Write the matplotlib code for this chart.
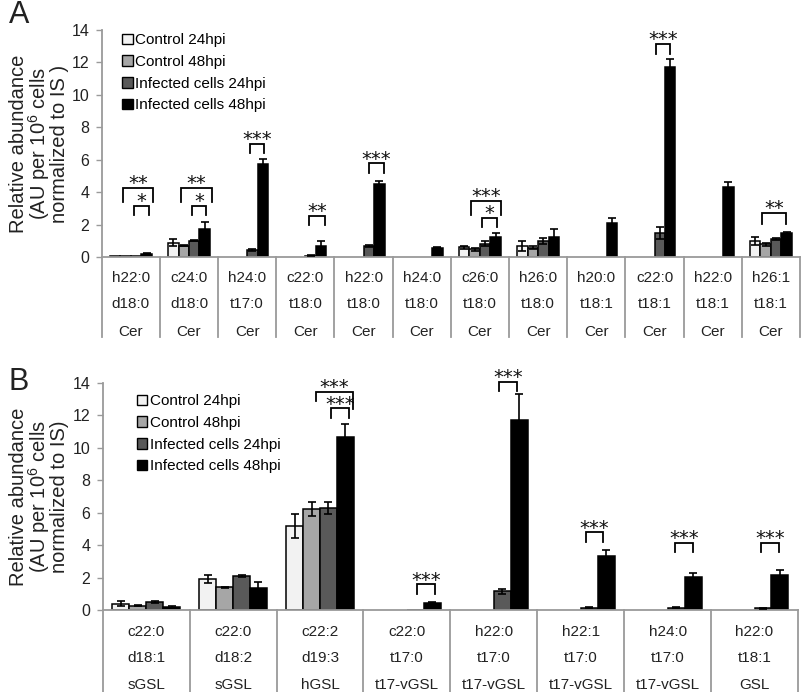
import matplotlib
matplotlib.use("Agg")
import matplotlib.pyplot as plt
from matplotlib.patches import Patch
import numpy as np

plt.rcParams['font.family'] = ['Liberation Sans', 'DejaVu Sans']
plt.rcParams['mathtext.fontset'] = 'custom'
plt.rcParams['mathtext.rm'] = 'Liberation Sans'
plt.rcParams['mathtext.it'] = 'Liberation Sans:italic'
plt.rcParams['mathtext.bf'] = 'Liberation Sans:bold'

# ---------------- data ----------------
series = ["Control 24hpi", "Control 48hpi", "Infected cells 24hpi", "Infected cells 48hpi"]
colors = ["#f2f2f2", "#a6a6a6", "#595959", "#000000"]

cats_A_fa = ["h22:0", "c24:0", "h24:0", "c22:0", "h22:0", "h24:0", "c26:0", "h26:0", "h20:0", "c22:0", "h22:0", "h26:1"]
cats_A_lcb = ["d18:0", "d18:0", "t17:0", "t18:0", "t18:0", "t18:0", "t18:0", "t18:0", "t18:1", "t18:1", "t18:1", "t18:1"]
cats_A_cls = ["Cer"] * 12

ctrl24_A = [0.05, 0.88, 0, 0, 0, 0, 0.60, 0.68, 0, 0, 0, 0.99]
ctrl48_A = [0.06, 0.70, 0, 0, 0, 0, 0.47, 0.57, 0, 0, 0, 0.78]
inf24_A = [0.07, 1.00, 0.45, 0.08, 0.70, 0, 0.83, 0.97, 0, 1.46, 0, 1.09]
inf48_A = [0.20, 1.70, 5.74, 0.68, 4.49, 0.57, 1.25, 1.25, 2.08, 11.71, 4.30, 1.46]
ctrl24_A_err = [0.0, 0.20, 0, 0, 0, 0, 0.08, 0.30, 0, 0, 0, 0.26]
ctrl48_A_err = [0.0, 0.05, 0, 0, 0, 0, 0.08, 0.08, 0, 0, 0, 0.08]
inf24_A_err = [0.0, 0.04, 0.05, 0.02, 0.07, 0, 0.18, 0.18, 0, 0.37, 0, 0.07]
inf48_A_err = [0.04, 0.47, 0.29, 0.29, 0.20, 0.04, 0.21, 0.45, 0.31, 0.51, 0.31, 0.10]

cats_B_fa = ["c22:0", "c22:0", "c22:2", "c22:0", "h22:0", "h22:1", "h24:0", "h22:0"]
cats_B_lcb = ["d18:1", "d18:2", "d19:3", "t17:0", "t17:0", "t17:0", "t17:0", "t18:1"]
cats_B_cls = ["sGSL", "sGSL", "hGSL", "t17-vGSL", "t17-vGSL", "t17-vGSL", "t17-vGSL", "GSL"]

ctrl24_B = [0.40, 1.90, 5.15, 0, 0, 0, 0, 0]
ctrl48_B = [0.27, 1.40, 6.22, 0, 0, 0, 0, 0]
inf24_B = [0.50, 2.10, 6.26, 0.02, 1.15, 0.15, 0.15, 0.10]
inf48_B = [0.21, 1.35, 10.66, 0.45, 11.70, 3.35, 2.06, 2.16]
ctrl24_B_err = [0.13, 0.26, 0.74, 0, 0, 0, 0, 0]
ctrl48_B_err = [0.03, 0.03, 0.41, 0, 0, 0, 0, 0]
inf24_B_err = [0.05, 0.07, 0.37, 0, 0.16, 0.02, 0.02, 0.02]
inf48_B_err = [0.06, 0.40, 0.82, 0.04, 1.64, 0.35, 0.25, 0.33]

# significance brackets: (category, x_from, x_to, y_line, y_leg_left, y_leg_right, label)
sig_A = [
    (0, -0.13, 0.39, 4.26, 3.40, 3.40, "**"),
    (0, 0.06, 0.31, 3.17, 2.60, 2.60, "*"),
    (1, -0.14, 0.39, 4.26, 3.40, 3.40, "**"),
    (1, 0.06, 0.29, 3.17, 2.60, 2.60, "*"),
    (2, 0.04, 0.29, 6.97, 6.40, 6.40, "***"),
    (3, 0.07, 0.33, 2.55, 1.97, 1.97, "**"),
    (4, 0.10, 0.35, 5.78, 5.20, 5.20, "***"),
    (6, -0.16, 0.37, 3.46, 2.60, 2.60, "***"),
    (6, 0.03, 0.29, 2.43, 1.83, 1.83, "*"),
    (9, 0.02, 0.27, 13.13, 12.53, 12.53, "***"),
    (11, -0.16, 0.26, 2.73, 2.02, 2.02, "**"),
]
sig_B = [
    (2, -0.05, 0.38, 13.47, 12.91, 12.42, "***"),
    (2, 0.13, 0.33, 12.43, 11.82, 11.82, "***"),
    (3, 0.12, 0.32, 1.59, 0.99, 0.99, "***"),
    (4, 0.06, 0.27, 14.08, 13.53, 13.53, "***"),
    (5, 0.06, 0.26, 4.78, 4.22, 4.22, "***"),
    (6, 0.09, 0.29, 4.16, 3.60, 3.60, "***"),
    (7, 0.07, 0.28, 4.16, 3.60, 3.60, "***"),
]

yticks = [0, 2, 4, 6, 8, 10, 12, 14]

# ---------------- drawing ----------------
W, H = 802, 692
fig = plt.figure(figsize=(W / 100, H / 100), dpi=100)
axA = fig.add_axes([101.7 / W, 1 - 257 / H, (800 - 101.7) / W, 227 / H])
axB = fig.add_axes([102.7 / W, 1 - 610 / H, (798 - 102.7) / W, 227 / H])

GRAY = "#9a9a9a"
TXT = "#222222"


def draw_panel(ax, vals, errs, width, rows, sigs, sep_px, row_px, leg_anchor):
    n = len(vals[0])
    x = np.arange(n)
    for k in range(4):
        off = (k - 1.5) * width
        v = np.array(vals[k], float)
        e = np.array(errs[k], float)
        m = v > 0
        ax.bar(x[m] + off, v[m], width=width, color=colors[k], edgecolor="black",
               linewidth=1.1, zorder=2)
        me = m & (e > 0)
        ax.errorbar(x[me] + off, v[me], yerr=e[me], fmt="none", ecolor="black",
                    elinewidth=1.2, capsize=3.2, capthick=1.2, zorder=3)
    ax.set_xlim(-0.5, n - 0.5)
    ax.set_ylim(0, 14)
    ax.set_yticks(yticks)
    ax.set_yticklabels([str(t) for t in yticks], fontsize=11.5, color=TXT)
    ax.tick_params(axis="y", length=4, width=1.0, color=GRAY, pad=5)
    ax.set_xticks([])
    for s in ("top", "right"):
        ax.spines[s].set_visible(False)
    for s in ("left", "bottom"):
        ax.spines[s].set_color(GRAY)
        ax.spines[s].set_linewidth(1.3)
    # table rows below axis
    axh = ax.get_position().height * H
    for b in np.arange(n + 1) - 0.5:
        ax.plot([b, b], [0, -sep_px / axh], transform=ax.get_xaxis_transform(),
                color=GRAY, lw=1.3, clip_on=False)
    for r, labels in enumerate(rows):
        for i, lab in enumerate(labels):
            ax.annotate(lab, xy=(i, 0), xycoords=("data", "axes fraction"),
                        xytext=(0, -row_px[r] * 0.72), textcoords="offset points",
                        ha="center", va="center", fontsize=11, color=TXT)
    # significance
    for (c, x1, x2, yl, yll, ylr, lab) in sigs:
        ax.plot([c + x1, c + x1, c + x2, c + x2], [yll, yl, yl, ylr], color="black",
                lw=1.3, clip_on=False, zorder=4, solid_joinstyle="miter")
        ax.annotate(lab, xy=((x1 + x2) / 2 + c, yl), xytext=(0, -1.0),
                    textcoords="offset points", ha="center", va="baseline",
                    fontsize=14, family="DejaVu Sans", color="#111111",
                    annotation_clip=False)
    handles = [Patch(facecolor=colors[k], edgecolor="black", linewidth=1.0) for k in range(4)]
    ax.legend(handles, series, loc="upper left", bbox_to_anchor=leg_anchor, frameon=False,
              fontsize=11, handlelength=0.7, handleheight=0.7, handletextpad=0.15,
              labelspacing=0.5, borderpad=0, borderaxespad=0)


draw_panel(axA, [ctrl24_A, ctrl48_A, inf24_A, inf48_A],
           [ctrl24_A_err, ctrl48_A_err, inf24_A_err, inf48_A_err],
           0.18, [cats_A_fa, cats_A_lcb, cats_A_cls], sig_A, 80, [21, 47.5, 75],
           (0.029, 0.985))
draw_panel(axB, [ctrl24_B, ctrl48_B, inf24_B, inf48_B],
           [ctrl24_B_err, ctrl48_B_err, inf24_B_err, inf48_B_err],
           0.195, [cats_B_fa, cats_B_lcb, cats_B_cls], sig_B, 84, [22, 48, 75],
           (0.049, 0.95))

fig.text(39 / W, 1 - 143.5 / H,
         "Relative abundance\n(AU per 10$^{\\mathrm{6}}$ cells\nnormalized to IS )",
         rotation=90, ha="center", va="center", fontsize=14.5, color=TXT,
         linespacing=0.9, multialignment="center")
fig.text(39 / W, 1 - 496.5 / H,
         "Relative abundance\n(AU per 10$^{\\mathrm{6}}$ cells\nnormalized to IS)",
         rotation=90, ha="center", va="center", fontsize=14.5, color=TXT,
         linespacing=0.9, multialignment="center")
fig.text(19 / W, 1 - 15 / H, "A", fontsize=22, ha="center", va="center", color=TXT)
fig.text(19 / W, 1 - 382 / H, "B", fontsize=22, ha="center", va="center", color=TXT)

fig.savefig("out.png", dpi=100)
